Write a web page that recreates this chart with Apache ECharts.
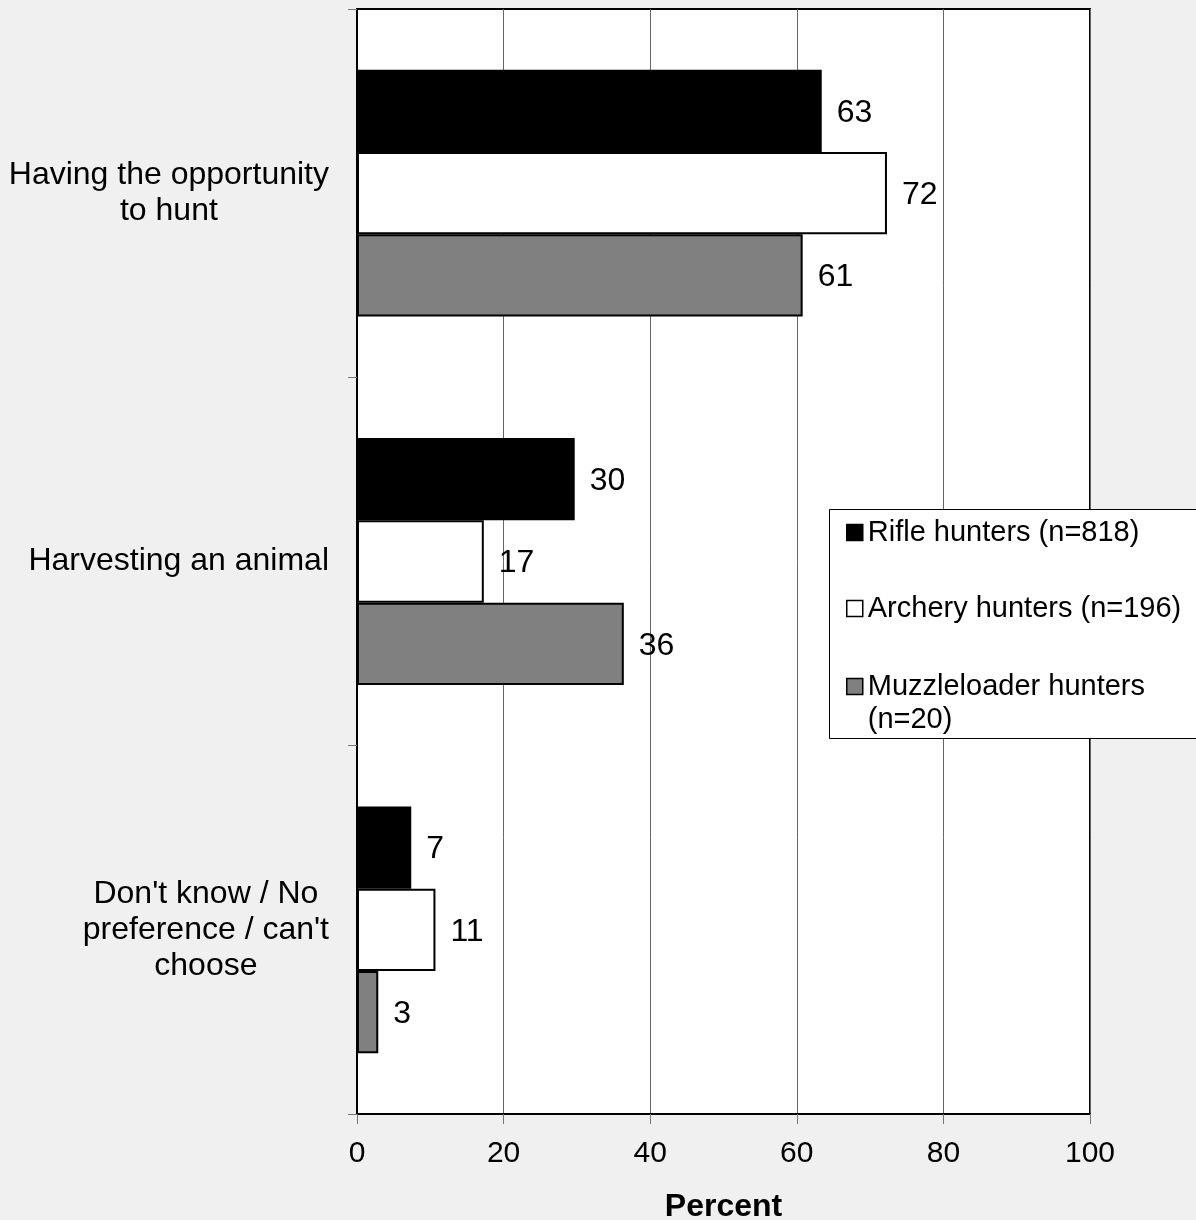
<!DOCTYPE html>
<html>
<head>
<meta charset="utf-8">
<script src="https://cdn.jsdelivr.net/npm/echarts@6/dist/echarts.min.js"></script>
<style>
html,body{margin:0;padding:0;background:#f0f0f0;}
#chart{width:1196px;height:1220px;}
</style>
</head>
<body>
<div id="chart"></div>
<script>
var categories = ["Having the opportunity\nto hunt", "Harvesting an animal", "Don't know / No\npreference / can't\nchoose"];
var seriesNames = ["Rifle hunters (n=818)", "Archery hunters (n=196)", "Muzzleloader hunters\n(n=20)"];
var rifle = [63.4, 29.7, 7.4];
var archery = [72.3, 17.3, 10.7];
var muzzle = [60.8, 36.4, 2.9];
var xTicks = [0, 20, 40, 60, 80, 100];

var FONT = "'Liberation Sans', Arial, sans-serif";
var colors = ['#000000', '#ffffff', '#808080'];
var values = [rifle, archery, muzzle];

var chart = echarts.init(document.getElementById('chart'));

var series = values.map(function (v, i) {
  return {
    name: seriesNames[i],
    type: 'bar',
    data: v,
    barCategoryGap: '33%',
    barGap: '0%',
    itemStyle: { color: colors[i], borderColor: '#000', borderWidth: 2 },
    label: {
      show: true, position: 'right', distance: 15, offset: [0, 2],
      fontSize: 32, fontFamily: FONT, color: '#000',
      formatter: function (p) { return Math.round(p.value); }
    },
    z: 3
  };
});

function legendFor(i, top, fmt) {
  var l = {
    data: [seriesNames[i]],
    left: 846, top: top, padding: 0,
    itemWidth: 16, itemHeight: 16, itemGap: 0,
    icon: 'rect',
    selectedMode: false,
    textStyle: { fontSize: 29, fontFamily: FONT, color: '#000', lineHeight: 33 },
    itemStyle: { borderColor: '#000', borderWidth: 1.5 },
    z: 60
  };
  if (fmt) l.formatter = fmt;
  return l;
}

chart.setOption({
  backgroundColor: '#f0f0f0',
  animation: false,
  grid: {
    left: 357, right: 106, top: 9, bottom: 106,
    outerBoundsMode: 'none', containLabel: false,
    show: true, backgroundColor: '#ffffff', borderColor: '#000', borderWidth: 2
  },
  legend: [
    legendFor(0, 516),
    legendFor(1, 592),
    legendFor(2, 637, function (n) { return '\n' + n; })
  ],
  graphic: [{
    type: 'rect', z: 50,
    shape: { x: 829.5, y: 509.5, width: 400, height: 229 },
    style: { fill: '#fff', stroke: '#000', lineWidth: 1 }
  }],
  xAxis: {
    type: 'value', min: xTicks[0], max: xTicks[xTicks.length - 1], interval: 20,
    axisLine: { show: true, lineStyle: { color: '#000', width: 2 } },
    axisTick: { show: true, length: 10, lineStyle: { color: '#777', width: 1 } },
    splitLine: { show: true, lineStyle: { color: '#666', width: 1 } },
    axisLabel: { fontSize: 30, fontFamily: FONT, color: '#000', margin: 25 },
    name: 'Percent', nameLocation: 'middle', nameGap: 77,
    nameTextStyle: { fontSize: 32, fontWeight: 'bold', fontFamily: FONT, color: '#000' }
  },
  yAxis: {
    type: 'category', data: categories, inverse: true,
    axisLine: { show: true, lineStyle: { color: '#000', width: 2 } },
    axisTick: { show: true, length: 9, alignWithLabel: false, lineStyle: { color: '#777', width: 1 } },
    splitLine: { show: false },
    axisLabel: {
      margin: 28, color: '#000', fontSize: 32, fontFamily: FONT, lineHeight: 36,
      formatter: function (v) {
        return v.split('\n').map(function (l) { return '{c|' + l + '}'; }).join('\n');
      },
      rich: { c: { align: 'center', fontSize: 32, fontFamily: FONT, lineHeight: 36, color: '#000' } }
    }
  },
  series: series
});
</script>
</body>
</html>
